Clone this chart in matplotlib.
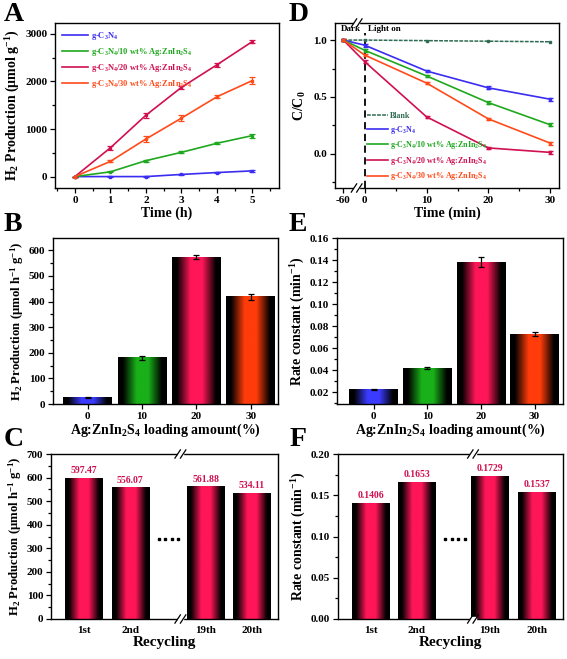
import numpy as np
import matplotlib
matplotlib.use("Agg")
import matplotlib.pyplot as plt
from matplotlib.colors import LinearSegmentedColormap
from matplotlib.ticker import MultipleLocator
from matplotlib.lines import Line2D

plt.rcParams['font.family'] = ['Liberation Serif', 'DejaVu Serif']
plt.rcParams['font.weight'] = 'bold'
plt.rcParams['mathtext.fontset'] = 'custom'
plt.rcParams['mathtext.rm'] = 'Liberation Serif:bold'
plt.rcParams['mathtext.it'] = 'Liberation Serif:bold:italic'
plt.rcParams['mathtext.bf'] = 'Liberation Serif:bold'
plt.rcParams['axes.linewidth'] = 1.0

# ---------------- Data ----------------
# Panel A
time_h = [0, 1, 2, 3, 4, 5]
a_gcn = [0, 0, 0, 45, 85, 120]
a_10 = [0, 100, 335, 510, 700, 862]
a_20 = [0, 605, 1290, 1875, 2350, 2840]
a_30 = [0, 320, 790, 1228, 1678, 2020]
a_gcn_err = [0, 5, 5, 10, 12, 15]
a_10_err = [0, 10, 20, 20, 25, 40]
a_20_err = [0, 40, 55, 40, 45, 35]
a_30_err = [0, 20, 55, 60, 35, 75]
a_labels = ['g-C$_3$N$_4$', 'g-C$_3$N$_4$/10 wt% Ag:ZnIn$_2$S$_4$',
            'g-C$_3$N$_4$/20 wt% Ag:ZnIn$_2$S$_4$', 'g-C$_3$N$_4$/30 wt% Ag:ZnIn$_2$S$_4$']

# Panel D
time_min = [-60, 0, 10, 20, 30]
d_blank = [1.0, 1.0, 0.995, 0.99, 0.985]
d_gcn = [1.0, 0.955, 0.728, 0.58, 0.48]
d_10 = [1.0, 0.91, 0.685, 0.45, 0.255]
d_20 = [1.0, 0.81, 0.325, 0.052, 0.013]
d_30 = [1.0, 0.868, 0.622, 0.307, 0.094]
d_labels = ['Blank'] + a_labels

# Panel B / E
loading = ['0', '10', '20', '30']
b_vals = [25, 180, 573, 418]
b_err = [3, 7, 8, 11]
e_vals = [0.0225, 0.0418, 0.1382, 0.0728]
e_err = [0.0004, 0.0008, 0.0042, 0.0018]

# Panel C / F
cycles = ['1st', '2nd', '19th', '20th']
c_vals = [597.47, 556.07, 561.88, 534.11]
f_vals = [0.1406, 0.1653, 0.1729, 0.1537]

# ---------------- Styles ----------------
col_blank = '#2f6b52'
col_gcn = '#3a2cf0'
col_10 = '#1fa81f'
col_20 = '#d0104f'
col_30 = '#ff4a1a'
bar_cols = ['#3b3bff', '#19b019', '#ff1658', '#ff3c0a']
rec_col = '#ff1658'
label_col = '#d0104f'

W, H = 567, 659
fig = plt.figure(figsize=(W / 100, H / 100), dpi=100)


def add_ax(l, r, t, b):
    return fig.add_axes([l / W, 1 - b / H, (r - l) / W, (b - t) / H])


def style(ax):
    ax.tick_params(which='both', direction='out', top=False, right=False,
                   labelsize=8, width=0.9, pad=2)
    ax.tick_params(which='major', length=3.5)
    ax.tick_params(which='minor', length=2)
    for lab in ax.get_xticklabels() + ax.get_yticklabels():
        lab.set_fontweight('bold')


def grad_bar(ax, x, w, h, color):
    cmap = LinearSegmentedColormap.from_list(
        'g', [(0, 'black'), (0.1, 'black'), (0.38, color), (0.62, color),
              (0.9, 'black'), (1, 'black')])
    grad = np.linspace(0, 1, 256).reshape(1, -1)
    ax.imshow(grad, cmap=cmap, extent=[x - w / 2, x + w / 2, 0, h],
              aspect='auto', interpolation='bilinear', zorder=2)


def break_mark(ax, xf):
    for yf in (0, 1):
        ax.add_patch(plt.Rectangle((xf - 0.012, yf - 0.01), 0.024, 0.02,
                                   transform=ax.transAxes, color='white',
                                   clip_on=False, zorder=5))
        for dx in (-0.012, 0.012):
            ax.plot([xf + dx - 0.012, xf + dx + 0.012], [yf - 0.025, yf + 0.025],
                    transform=ax.transAxes, color='black', lw=0.9,
                    clip_on=False, zorder=6)


lab_fs = 10
panel_fs = 20

# ---------------- Panel A ----------------
axA = add_ax(55, 279, 23, 188)
handlesA = []
for y, e, c, l in [(a_gcn, a_gcn_err, col_gcn, a_labels[0]),
                   (a_10, a_10_err, col_10, a_labels[1]),
                   (a_20, a_20_err, col_20, a_labels[2]),
                   (a_30, a_30_err, col_30, a_labels[3])]:
    axA.errorbar(time_h, y, yerr=e, color=c, lw=1.2, marker='s', ms=2,
                 capsize=2, elinewidth=0.9, capthick=0.9)
    handlesA.append(Line2D([], [], color=c, lw=1.2, label=l))
axA.set_xlim(-0.56, 5.75)
axA.set_ylim(-240, 3230)
axA.xaxis.set_major_locator(MultipleLocator(1))
axA.xaxis.set_minor_locator(MultipleLocator(0.5))
axA.yaxis.set_major_locator(MultipleLocator(1000))
axA.yaxis.set_minor_locator(MultipleLocator(500))
axA.set_xlabel('Time (h)', fontsize=lab_fs, fontweight='bold', labelpad=1)
axA.set_ylabel('H$_2$ Production (μmol g$^{-1}$)', fontsize=lab_fs, fontweight='bold', labelpad=2)
style(axA)
axA.legend(handles=handlesA, loc='upper left', bbox_to_anchor=(0.0, 1.0), frameon=False,
           fontsize=6, handlelength=3.2, handletextpad=0.3,
           labelspacing=0.5, labelcolor='linecolor', borderaxespad=0.4)

# ---------------- Panel D ----------------
axD = add_ax(335, 559, 23, 188)


def xmap(t):
    return t if t >= 0 else -3.45


xs = [xmap(t) for t in time_min]
axD.plot(xs, d_blank, color=col_blank, lw=1.1, ls=(0, (2.5, 0.8)), marker='s', ms=1.8)
handlesD = [Line2D([], [], color=col_blank, lw=1.1, ls=(0, (2.5, 0.8)), label=d_labels[0])]
for y, c, l in [(d_gcn, col_gcn, d_labels[1]), (d_10, col_10, d_labels[2]),
                (d_20, col_20, d_labels[3]), (d_30, col_30, d_labels[4])]:
    axD.errorbar(xs, y, yerr=0.012, color=c, lw=1.2, marker='s', ms=2,
                 capsize=1.8, elinewidth=0.8)
    handlesD.append(Line2D([], [], color=c, lw=1.2, label=l))
axD.set_xlim(-4.8, 31.4)
axD.set_ylim(-0.30, 1.15)
axD.plot([0, 0], [-0.30, 1.06], color='black', lw=1.3, ls=(0, (4, 2.5)), zorder=1)
axD.text(-0.6, 1.065, 'Dark', ha='right', va='bottom', fontsize=6.5, fontweight='bold')
axD.text(0.6, 1.065, 'Light on', ha='left', va='bottom', fontsize=6.5, fontweight='bold')
axD.set_xticks([xmap(t) for t in [-60, 0, 10, 20, 30]])
axD.set_xticklabels(['-60', '0', '10', '20', '30'])
axD.xaxis.set_minor_locator(plt.FixedLocator([5, 15, 25]))
axD.yaxis.set_major_locator(MultipleLocator(0.5))
axD.yaxis.set_minor_locator(MultipleLocator(0.25))
axD.set_xlabel('Time (min)', fontsize=lab_fs, fontweight='bold', labelpad=1)
axD.set_ylabel('C/C$_0$', fontsize=lab_fs, fontweight='bold', labelpad=4)
style(axD)
break_mark(axD, (-1.3 + 4.8) / 36.2)
axD.legend(handles=handlesD, loc='lower left', bbox_to_anchor=(0.11, -0.01), frameon=False,
           fontsize=5.8, handlelength=2.6, handletextpad=0.3,
           labelspacing=0.45, labelcolor='linecolor')

# ---------------- Panel B ----------------
axB = add_ax(53, 278, 238, 404)
for i, (v, c) in enumerate(zip(b_vals, bar_cols)):
    grad_bar(axB, i, 0.9, v, c)
axB.errorbar(range(4), b_vals, yerr=b_err, fmt='none', ecolor='black',
             elinewidth=0.9, capsize=2, capthick=0.9, zorder=3)
axB.set_xlim(-0.64, 3.5)
axB.set_ylim(0, 648)
axB.set_xticks(range(4))
axB.set_xticklabels(loading)
axB.yaxis.set_major_locator(MultipleLocator(100))
axB.yaxis.set_minor_locator(MultipleLocator(50))
axB.set_xlabel('Ag:ZnIn$_2$S$_4$ loading amount(%)', fontsize=lab_fs, fontweight='bold', labelpad=1)
axB.set_ylabel('H$_2$ Production (μmol h$^{-1}$ g$^{-1}$)', fontsize=9.2, fontweight='bold', labelpad=2)
style(axB)

# ---------------- Panel E ----------------
axE = add_ax(337, 563, 238, 404)
for i, (v, c) in enumerate(zip(e_vals, bar_cols)):
    grad_bar(axE, i, 0.9, v, c)
axE.errorbar(range(4), e_vals, yerr=e_err, fmt='none', ecolor='black',
             elinewidth=0.9, capsize=2, capthick=0.9, zorder=3)
axE.set_xlim(-0.68, 3.53)
axE.set_ylim(0.0094, 0.16)
axE.set_xticks(range(4))
axE.set_xticklabels(loading)
axE.yaxis.set_major_locator(MultipleLocator(0.02))
axE.yaxis.set_minor_locator(MultipleLocator(0.01))
axE.yaxis.set_major_formatter(plt.FormatStrFormatter('%.2f'))
axE.set_xlabel('Ag:ZnIn$_2$S$_4$ loading amount(%)', fontsize=lab_fs, fontweight='bold', labelpad=1)
axE.set_ylabel('Rate constant (min$^{-1}$)', fontsize=lab_fs, fontweight='bold', labelpad=2)
style(axE)

# ---------------- Panel C ----------------
pos = [0, 1, 2.62, 3.6]
axC = add_ax(51, 278, 454, 619)
for p, v in zip(pos, c_vals):
    grad_bar(axC, p, 0.8, v, rec_col)
    axC.text(p, v + 12, f'{v:.2f}', ha='center', va='bottom', color=label_col,
             fontsize=7, fontweight='bold')
axC.plot([1.62, 1.75, 1.88, 2.01], [339] * 4, ls='none', marker='s', ms=1.6, color='black')
axC.set_xlim(-0.7, 4.16)
axC.set_ylim(0, 700)
axC.set_xticks(pos)
axC.set_xticklabels(cycles)
axC.yaxis.set_major_locator(MultipleLocator(100))
axC.yaxis.set_minor_locator(MultipleLocator(50))
axC.set_xlabel('Recycling', fontsize=lab_fs + 1, fontweight='bold', labelpad=1)
axC.set_ylabel('H$_2$ Production (μmol h$^{-1}$ g$^{-1}$)', fontsize=9.2, fontweight='bold', labelpad=2)
style(axC)
axC.tick_params(axis='x', which='major', length=0, pad=5)
break_mark(axC, 0.57)

# ---------------- Panel F ----------------
axF = add_ax(338, 563, 454, 619)
posF = [0, 0.97, 2.53, 3.55]
for p, v in zip(posF, f_vals):
    grad_bar(axF, p, 0.81, v, rec_col)
    axF.text(p, v + 0.004, f'{v:.4f}', ha='center', va='bottom', color=label_col,
             fontsize=7, fontweight='bold')
axF.plot([1.58, 1.72, 1.86, 2.0], [0.097] * 4, ls='none', marker='s', ms=1.6, color='black')
axF.set_xlim(-0.71, 4.1)
axF.set_ylim(0, 0.2)
axF.set_xticks(posF)
axF.set_xticklabels(cycles)
axF.yaxis.set_major_locator(MultipleLocator(0.05))
axF.yaxis.set_minor_locator(MultipleLocator(0.025))
axF.yaxis.set_major_formatter(plt.FormatStrFormatter('%.2f'))
axF.set_xlabel('Recycling', fontsize=lab_fs + 1, fontweight='bold', labelpad=1)
axF.set_ylabel('Rate constant (min$^{-1}$)', fontsize=lab_fs, fontweight='bold', labelpad=2)
style(axF)
axF.tick_params(axis='x', which='major', length=0, pad=5)
break_mark(axF, 0.60)

# ---------------- Panel letters ----------------
for txt, x, y in [('A', 4, 2), ('D', 289, 2), ('B', 4, 212), ('E', 289, 212),
                  ('C', 4, 427), ('F', 290, 427)]:
    fig.text(x / W, 1 - y / H, txt, fontsize=panel_fs, fontweight='bold', va='top', ha='left')

fig.savefig('out.png', dpi=100)
